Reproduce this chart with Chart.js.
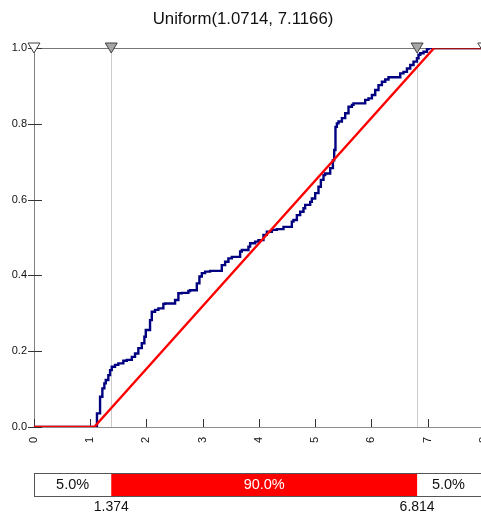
<!DOCTYPE html>
<html><head><meta charset="utf-8">
<script src="https://cdn.jsdelivr.net/npm/chart.js@4"></script>
<style>
html,body{margin:0;padding:0;overflow:hidden;background:#fff;width:481px;height:516px}
#wrap{width:507px;height:516px}
canvas{display:block}
</style></head>
<body><div id="wrap"><canvas id="c" width="507" height="516"></canvas></div>
<script>
const titleText = 'Uniform(1.0714, 7.1166)';
const ecdfX = [0, 1.12, 1.175, 1.216, 1.251, 1.276, 1.322, 1.353, 1.383, 1.441, 1.500, 1.589, 1.650, 1.740, 1.797, 1.856, 1.917, 1.963, 1.988, 2.006, 2.064, 2.095, 2.153, 2.212, 2.301, 2.331, 2.509, 2.568, 2.629, 2.746, 2.776, 2.896, 2.942, 2.985, 3.043, 3.132, 3.340, 3.399, 3.458, 3.518, 3.666, 3.696, 3.814, 3.844, 3.933, 3.992, 4.081, 4.141, 4.230, 4.319, 4.437, 4.586, 4.615, 4.675, 4.734, 4.793, 4.823, 4.912, 4.942, 5.001, 5.060, 5.102, 5.149, 5.179, 5.268, 5.316, 5.339, 5.362, 5.387, 5.416, 5.476, 5.535, 5.594, 5.654, 5.682, 5.891, 5.949, 6.010, 6.069, 6.127, 6.188, 6.247, 6.305, 6.514, 6.572, 6.633, 6.692, 6.750, 6.811, 6.839, 6.870, 6.928, 6.989, 7.017, 7.078, 8];
const ecdfY = [0, 0, 0.036, 0.080, 0.102, 0.115, 0.124, 0.137, 0.150, 0.159, 0.164, 0.168, 0.175, 0.177, 0.185, 0.194, 0.208, 0.221, 0.238, 0.256, 0.256, 0.282, 0.304, 0.309, 0.313, 0.325, 0.326, 0.335, 0.353, 0.354, 0.359, 0.361, 0.379, 0.397, 0.406, 0.410, 0.412, 0.427, 0.436, 0.445, 0.449, 0.463, 0.467, 0.476, 0.485, 0.489, 0.493, 0.507, 0.515, 0.520, 0.522, 0.528, 0.542, 0.546, 0.559, 0.568, 0.577, 0.586, 0.594, 0.603, 0.617, 0.634, 0.652, 0.665, 0.669, 0.683, 0.704, 0.731, 0.792, 0.801, 0.806, 0.815, 0.828, 0.845, 0.850, 0.854, 0.863, 0.867, 0.876, 0.889, 0.902, 0.911, 0.917, 0.923, 0.933, 0.937, 0.946, 0.955, 0.964, 0.973, 0.982, 0.986, 0.990, 0.997, 1.0, 1.0];
const fitX = [0, 1.0714, 7.1166, 8];
const fitY = [0, 0, 1, 1];
const xTickValues = [0, 1, 2, 3, 4, 5, 6, 7, 8];
const xTickLabels = ['0', '1', '2', '3', '4', '5', '6', '7', '8'];
const yTickValues = [0, 0.2, 0.4, 0.6, 0.8, 1.0];
const yTickLabels = ['0.0', '0.2', '0.4', '0.6', '0.8', '1.0'];
const markerValues = [1.374, 6.814];
const markerLabels = ['1.374', '6.814'];
const endValues = [0, 8];
const bandLabels = ['5.0%', '90.0%', '5.0%'];

const FONT = '"Liberation Sans", Arial, sans-serif';

function tri(ctx, px, top, fill) {
  ctx.beginPath();
  ctx.moveTo(px - 6, top);
  ctx.lineTo(px + 6, top);
  ctx.lineTo(px, top + 10);
  ctx.closePath();
  ctx.fillStyle = fill;
  ctx.fill();
  ctx.strokeStyle = '#404040';
  ctx.lineWidth = 1;
  ctx.stroke();
}

const deco = {
  id: 'deco',
  beforeDatasetsDraw(chart) {
    const {ctx, chartArea: a, scales: {x, y}} = chart;
    ctx.save();
    ctx.font = '16.8px ' + FONT;
    ctx.fillStyle = '#111111';
    ctx.textAlign = 'center';
    ctx.textBaseline = 'middle';
    ctx.fillText(titleText, 243, 19.5);
    ctx.lineWidth = 1;
    ctx.strokeStyle = '#cccccc';
    markerValues.forEach(v => {
      const px = Math.round(x.getPixelForValue(v)) + 0.5;
      ctx.beginPath(); ctx.moveTo(px, a.top); ctx.lineTo(px, a.bottom); ctx.stroke();
    });
    ctx.strokeStyle = '#777777';
    const ty = Math.round(a.top) + 0.5;
    ctx.beginPath(); ctx.moveTo(a.left, ty); ctx.lineTo(a.right, ty); ctx.stroke();
    ctx.strokeStyle = '#333333';
    xTickValues.forEach(v => {
      const px = Math.round(x.getPixelForValue(v)) + 0.5;
      ctx.beginPath(); ctx.moveTo(px, a.bottom - 8); ctx.lineTo(px, a.bottom); ctx.stroke();
    });
    yTickValues.forEach(v => {
      const py = Math.round(y.getPixelForValue(v)) + 0.5;
      ctx.beginPath(); ctx.moveTo(a.left - 6, py); ctx.lineTo(a.left + 8, py); ctx.stroke();
    });
    ctx.restore();
  },
  afterDraw(chart) {
    const {ctx, chartArea: a, scales: {x}} = chart;
    ctx.save();
    endValues.forEach(v => tri(ctx, x.getPixelForValue(v), a.top - 5, '#ffffff'));
    markerValues.forEach(v => tri(ctx, x.getPixelForValue(v), a.top - 5, '#a6a6a6'));
    const x0 = x.getPixelForValue(endValues[0]);
    const x1 = x.getPixelForValue(markerValues[0]);
    const x2 = x.getPixelForValue(markerValues[1]);
    const x3 = x.getPixelForValue(endValues[1]);
    const bt = 473, bb = 496;
    ctx.fillStyle = '#ffffff';
    ctx.fillRect(x0, bt, x3 - x0, bb - bt);
    ctx.fillStyle = '#ff0000';
    ctx.fillRect(x1, bt, x2 - x1, bb - bt);
    ctx.strokeStyle = '#555555';
    ctx.lineWidth = 1;
    ctx.strokeRect(Math.round(x0) + 0.5, bt + 0.5, x3 - x0, bb - bt);
    ctx.font = '14.5px ' + FONT;
    ctx.textAlign = 'center';
    ctx.textBaseline = 'middle';
    const mid = (bt + bb) / 2 + 0.5;
    ctx.fillStyle = '#111111';
    ctx.fillText(bandLabels[0], (x0 + x1) / 2, mid);
    ctx.fillStyle = '#ffffff';
    ctx.fillText(bandLabels[1], (x1 + x2) / 2, mid);
    ctx.fillStyle = '#111111';
    ctx.fillText(bandLabels[2], (x2 + x3) / 2 - 2, mid);
    ctx.font = '14px ' + FONT;
    markerValues.forEach((v, i) => ctx.fillText(markerLabels[i], x.getPixelForValue(v), 507));
    ctx.restore();
  }
};

new Chart(document.getElementById('c'), {
  type: 'line',
  data: {
    datasets: [
      {
        label: 'Fit',
        data: fitX.map((v, i) => ({x: v, y: fitY[i]})),
        borderColor: '#ff0000',
        borderWidth: 2.4,
        pointRadius: 0,
        tension: 0,
        order: 0,
        segment: {borderColor: c => (c.p0.parsed.y >= 1 ? '#a01010' : '#ff0000')}
      },
      {
        label: 'Data',
        data: ecdfX.map((v, i) => ({x: v, y: ecdfY[i]})),
        borderColor: '#000080',
        borderWidth: 2.4,
        pointRadius: 0,
        stepped: 'after',
        order: 1
      }
    ]
  },
  options: {
    responsive: false,
    animation: false,
    layout: {padding: {left: 0, right: 0, top: 48, bottom: 0}},
    plugins: {
      legend: {display: false},
      tooltip: {enabled: false},
      title: {display: false}
    },
    scales: {
      x: {
        type: 'linear', min: 0, max: 8, position: 'bottom',
        afterFit(s) { s.height = 89; },
        afterBuildTicks(s) { s.ticks = xTickValues.map(v => ({value: v})); },
        ticks: {
          autoSkip: false, minRotation: 90, maxRotation: 90, padding: 10,
          color: '#111111', font: {family: FONT, size: 11},
          callback: (v, i) => xTickLabels[i]
        },
        grid: {drawOnChartArea: false, drawTicks: false},
        border: {color: '#8c8c8c', width: 1}
      },
      y: {
        type: 'linear', min: 0, max: 1,
        afterFit(s) { s.width = 34; },
        afterBuildTicks(s) { s.ticks = yTickValues.map(v => ({value: v})); },
        ticks: {
          padding: 7, color: '#111111', font: {family: FONT, size: 11},
          callback: (v, i) => yTickLabels[i]
        },
        grid: {drawOnChartArea: false, drawTicks: false},
        border: {color: '#808080', width: 1}
      }
    }
  },
  plugins: [deco]
});
</script>
</body></html>
